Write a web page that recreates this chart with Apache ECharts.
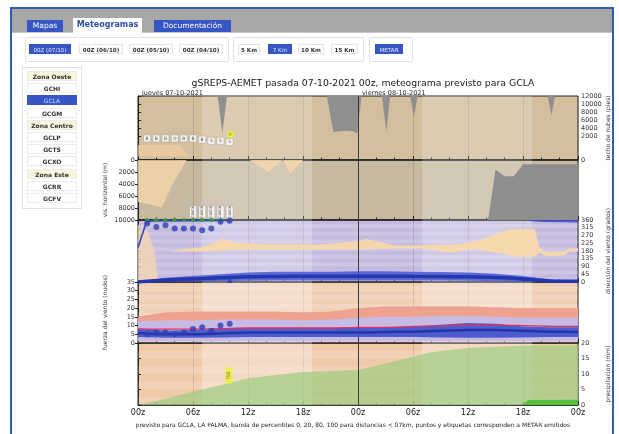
<!DOCTYPE html>
<html>
<head>
<meta charset="utf-8">
<script src="https://cdn.jsdelivr.net/npm/echarts@6/dist/echarts.min.js"></script>
<style>
  html, body { margin: 0; padding: 0; }
  body { width: 619px; height: 434px; overflow: hidden; background: #fff; position: relative;
         font-family: 'DejaVu Sans', 'Liberation Sans', sans-serif; }
  #chart { position: absolute; left: 0; top: 0; width: 619px; height: 434px; }
  .ui { position: absolute; z-index: 5; box-sizing: border-box; }
  .frame-h { left: 10px; top: 7px; width: 604px; height: 2px; background: #2f5fae; }
  .frame-l { left: 10px; top: 7px; width: 2px; height: 427px; background: #2f5fae; }
  .frame-r { left: 612px; top: 7px; width: 2px; height: 427px; background: #2f5fae; }
  .tabbar { left: 12px; top: 9px; width: 600px; height: 24px; background: #a7a7a7; border-bottom: 1px solid #c8c8c8; }
  .tab { height: 12px; line-height: 12px; font-size: 7.5px; text-align: center; color: #fff; background: #3556c4; }
  .tab.on { background: #fff; color: #2b4ea6; font-weight: bold; height: 15px; line-height: 14px; font-size: 8px; }
  .grp { border: 1px solid #e2e2e2; border-radius: 2px; }
  .btn { height: 10px; line-height: 10px; font-size: 5.6px; text-align: center; color: #333;
         border: 1px solid #e4e4e4; background: #fff; font-weight: bold; }
  .btn.on { background: #3556c4; color: #dfe6ff; border-color: #3556c4; font-weight: normal; }
  .side { left: 22px; top: 67px; width: 60px; height: 142px; border: 1px solid #e2e2e2; }
  .row { left: 27px; width: 50px; height: 10px; line-height: 10px; font-size: 6px; text-align: center;
         font-weight: bold; color: #333; border: 1px solid #ececec; background: #fff; }
  .row.zone { background: #f6f6dc; }
  .row.on { background: #3556c4; color: #cdd8ff; border-color: #3556c4; font-weight: normal; }
</style>
</head>
<body>
<div id="chart"></div>

<div class="ui frame-h"></div>
<div class="ui frame-l"></div>
<div class="ui frame-r"></div>
<div class="ui tabbar"></div>
<div class="ui tab" style="left:27px;top:20px;width:36px;">Mapas</div>
<div class="ui tab on" style="left:73px;top:18px;width:69px;">Meteogramas</div>
<div class="ui tab" style="left:154px;top:20px;width:77px;">Documentación</div>

<div class="ui grp" style="left:25px;top:37px;width:204px;height:25px;"></div>
<div class="ui btn on" style="left:29px;top:44px;width:42px;">00Z (07/10)</div>
<div class="ui btn" style="left:79px;top:44px;width:44px;">00Z (06/10)</div>
<div class="ui btn" style="left:129px;top:44px;width:44px;">00Z (05/10)</div>
<div class="ui btn" style="left:179px;top:44px;width:44px;">00Z (04/10)</div>
<div class="ui grp" style="left:233px;top:37px;width:131px;height:25px;"></div>
<div class="ui btn" style="left:238px;top:44px;width:22px;">5 Km</div>
<div class="ui btn on" style="left:268px;top:44px;width:24px;">7 Km</div>
<div class="ui btn" style="left:298px;top:44px;width:26px;">10 Km</div>
<div class="ui btn" style="left:331px;top:44px;width:27px;">15 Km</div>
<div class="ui grp" style="left:369px;top:37px;width:44px;height:25px;"></div>
<div class="ui btn on" style="left:375px;top:44px;width:28px;">METAR</div>

<div class="ui side"></div>
<div id="sidebar"></div>

<script>
// ---------------- station list ----------------
const sideRows = [
  ['Zona Oeste', 'zone'], ['GCHI', ''], ['GCLA', 'on'], ['GCGM', ''],
  ['Zona Centro', 'zone'], ['GCLP', ''], ['GCTS', ''], ['GCXO', ''],
  ['Zona Este', 'zone'], ['GCRR', ''], ['GCFV', '']
];
(function () {
  const box = document.getElementById('sidebar');
  sideRows.forEach((r, i) => {
    const d = document.createElement('div');
    d.className = 'ui row ' + r[1];
    d.style.top = (71 + i * 12.2) + 'px';
    d.textContent = r[0];
    box.appendChild(d);
  });
})();

// ---------------- time axis (hours from 07-10-2021 00z) ----------------
const xTickLabels = ['00z', '06z', '12z', '18z', '00z', '06z', '12z', '18z', '00z'];
const dayBands = [[7, 19], [31, 43]];

// ---------------- cloud ceiling (ft) ----------------
const ceilTickLabels = [0, 2000, 4000, 6000, 8000, 10000, 12000];
const ceilHours = [0, 8.7, 9.2, 9.7, 20.6, 21.3, 22.5, 23.5, 23.9, 24.4, 26.6, 27.1, 27.5, 29.7, 30.1, 30.5, 44.7, 45.1, 45.5, 48];
const ceilGrey  = [12000, 12000, 2700, 12000, 12000, 3000, 3300, 3200, 2600, 12000, 12000, 3000, 12000, 12000, 6600, 12000, 12000, 7200, 12000, 12000];
const ceilBandHours = [0, 4.5, 5.6];
const ceilBandLow   = [300, 300, 300];
const ceilBandHigh  = [1250, 1250, 300];
const metarCloudHours = [1, 2, 3, 4, 5, 6, 7, 8, 9, 10];
const metarCloudFt    = [1800, 1800, 1800, 1800, 1800, 1800, 1700, 1600, 1600, 1500];
const metarCloudCode  = ['B', 'B', 'B', 'O', 'B', 'B', 'B', 'S', 'S', 'S'];

// ---------------- visibility (m) ----------------
const visHours   = [0, 1.5, 2.6, 3.8, 5.3];
const visFan     = [7000, 7500, 7900, 4000, 0];
const visDayHours = [12.2, 14.2, 15.8, 16.6, 18.0];
const visDayBand  = [0, 2000, 0, 2300, 0];
const visGreyHours = [0, 38.2, 39.0, 40.0, 41.0, 42.0, 48];
const visGrey      = [10000, 10000, 1600, 2700, 2700, 700, 700];
const metarVisHours = [1, 2, 3, 4, 5, 6, 7, 8, 9, 10];
const metarVis      = [9999, 9999, 9999, 9999, 9999, 9999, 9999, 9999, 9999, 9999];
const metarVisTagHours = [6, 7, 8, 9, 10];

// ---------------- wind direction (deg) ----------------
const dirFanHours = [0, 1, 1.8, 2.2];
const dirFan      = [330, 300, 180, 0];
const dirBandHours = [3.8, 5, 6.8, 8.6, 9.3, 10, 11, 14, 20, 24, 25, 26, 28, 31, 34, 35, 36, 37, 40.2, 41, 43.3, 43.8, 44.5, 46.5, 47, 48];
const dirBandLow   = [177, 177, 177, 183, 185, 186, 189, 189, 189, 189, 189, 192, 195, 195, 171, 177, 189, 189, 160, 148, 148, 170, 153, 153, 177, 177];
const dirBandHigh  = [180, 190, 201, 230, 254, 235, 230, 218, 218, 236, 250, 236, 212, 212, 218, 218, 230, 240, 300, 307, 307, 200, 177, 177, 195, 195];
const dirHours   = [0, 3, 6, 9, 12, 15, 18, 21, 24, 27, 30, 33, 36, 39, 42, 45, 48];
const dirLow     = [0, 2, 3, 5, 7, 8, 8, 8, 8, 8, 8, 8, 7, 5, 2, 0, 0];
const dirHigh    = [0, 25, 35, 45, 55, 60, 60, 60, 62, 62, 60, 58, 55, 48, 35, 15, 10];
const dirMedian  = [0, 12, 18, 24, 30, 32, 33, 33, 34, 34, 33, 32, 30, 26, 18, 6, 4];
const dirTopHours = [42.5, 44, 48];
const dirTopLow   = [355, 348, 345];
const dirLineHours = [0, 0.9, 1.5, 10.2];
const dirLine      = [200, 345, 355, 357];
const metarDirHours = [1, 2, 3, 4, 5, 6, 7, 8, 9, 10];
const metarDir      = [340, 320, 330, 310, 310, 310, 300, 310, 350, 355];

// ---------------- wind speed (kt) ----------------
const spdHours = [0, 3, 6, 9, 12, 15, 18, 21, 24, 27, 30, 33, 36, 39, 42, 45, 48];
const spdOuterLow = [1, 1, 1, 1, 1, 1, 1, 1, 1, 1, 1, 1, 1, 1, 1, 1, 1];
const gustLow  = [12.5, 13, 13, 13.5, 13.5, 13.5, 13, 13.5, 14.5, 15, 15, 15.5, 15.5, 15, 14.5, 14.5, 14.5];
const gustHigh = [15, 17.5, 18, 18, 18, 18, 17.5, 18, 20, 21, 21, 21, 21, 20.5, 20, 20, 20];
const spdLow   = [3.5, 3, 3, 3.2, 3.4, 3.4, 3.4, 3.4, 3.4, 3.4, 3.4, 3.2, 3, 3, 3.2, 3.4, 3.4];
const spdHigh  = [8.5, 7, 7.5, 8, 8.6, 8.6, 8.6, 8.6, 9, 9, 9.5, 10.5, 11.5, 11, 9.5, 9, 9];
const spdRef   = [8, 8, 8, 8.2, 8.6, 8.6, 8.6, 8.6, 9, 9, 9.5, 9.8, 10.3, 10.3, 10, 9.6, 9.5];
const spdMed   = [5.7, 5, 5, 5.5, 6, 6, 6, 6, 6, 6.3, 6.5, 7, 7.5, 7.5, 7, 6.5, 6.3];
const metarSpdHours = [1, 2, 3, 4, 5, 6, 7, 8, 9, 10];
const metarSpd      = [5, 6, 6, 5, 6, 8, 9, 7, 10, 11];

// ---------------- accumulated precipitation (mm) ----------------
const pcpHours = [0, 2.4, 6.8, 12.2, 17.7, 24, 28.6, 31.9, 36.2, 42, 48];
const pcpHigh  = [0, 1.6, 4.8, 8.7, 10.6, 11.3, 14.5, 17, 18.5, 19.1, 19.3];
const pcpMedHours = [0, 41.8, 42.6, 48];
const pcpMed      = [0, 0, 1.6, 1.7];

// ---------------- helpers ----------------
const ceilT   = v => (v <= 2000 ? v * 3 : v + 4000);
const ceilInv = t => (t <= 6000 ? t / 3 : t - 4000);
const pairs = (xs, ys, f) => xs.map((x, i) => [x, f ? f(ys[i]) : ys[i]]);
const FONT = 'DejaVu Sans';

const gridBg  = ['#d3bf9e', '#c6b9a1', '#c5bbdf', '#f0cfb3', '#f0c9a9'];
const dayTint = [0.2, 0.22, 0.22, 0.3, 0.3];
const gridTop = [96, 160, 220, 282, 343];
const gridH   = [64, 60, 62, 61, 62];

// filled band between two curves, drawn as one polygon in axis coordinates
function band(idx, xs, lo, hi, color, z, f) {
  const tf = f || (v => v);
  return {
    type: 'custom', xAxisIndex: idx, yAxisIndex: idx, z: z, silent: true,
    data: xs.map((x, i) => [x, tf(lo[i]), tf(hi[i])]),
    encode: { x: 0, y: [1, 2] },
    renderItem: (params, api) => {
      if (params.dataIndex !== 0) return null;
      const upper = xs.map((x, i) => api.coord([x, tf(hi[i])]));
      const lower = xs.map((x, i) => api.coord([x, tf(lo[i])])).reverse();
      const cs = params.coordSys;
      return {
        type: 'group',
        clipPath: { type: 'rect', shape: { x: cs.x, y: cs.y, width: cs.width, height: cs.height } },
        children: [{ type: 'polygon', shape: { points: upper.concat(lower) }, style: { fill: color } }]
      };
    }
  };
}

function areaLine(idx, xs, ys, origin, color, z, f) {
  return { type: 'line', xAxisIndex: idx, yAxisIndex: idx, data: pairs(xs, ys, f), symbol: 'none',
           lineStyle: { width: 0 }, areaStyle: { origin: origin, color: color, opacity: 1 }, silent: true, z: z };
}

function notes(idx, list, z) {
  return { type: 'scatter', xAxisIndex: idx, yAxisIndex: idx, symbol: 'rect', symbolSize: 1, z: z || 20,
           itemStyle: { opacity: 0 }, silent: true,
           data: list.map(n => ({ value: [n.x, n.y], label: Object.assign({
             show: true, formatter: n.text, position: 'right', distance: 0, fontFamily: FONT, fontSize: 5.5, color: '#222'
           }, n.style || {}) })) };
}

// daylight shading, faint horizontal stripes and the midnight line
function backdrop(idx, stripeStep, stripeMax) {
  const stripes = [];
  if (stripeStep) {
    for (let v = 0; v < stripeMax; v += 2 * stripeStep) stripes.push([{ yAxis: v }, { yAxis: Math.min(v + stripeStep, stripeMax) }]);
  }
  return [
    { type: 'line', xAxisIndex: idx, yAxisIndex: idx, data: [], z: 1, silent: true,
      markArea: { silent: true, itemStyle: { color: 'rgba(255,255,255,' + dayTint[idx] + ')' },
                  data: dayBands.map(b => [{ xAxis: b[0] }, { xAxis: b[1] }]) } },
    { type: 'line', xAxisIndex: idx, yAxisIndex: idx, data: [], z: 1, silent: true,
      markArea: { silent: true, itemStyle: { color: 'rgba(255,255,255,0.16)' }, data: stripes } },
    { type: 'line', xAxisIndex: idx, yAxisIndex: idx, data: [], z: 15, silent: true,
      markLine: { silent: true, symbol: 'none', label: { show: false },
                  lineStyle: { color: '#3a3a3a', width: 1, type: 'solid' }, data: [{ xAxis: 24 }] } }
  ];
}

const redBox = { borderColor: '#e0302c', borderWidth: 1, borderRadius: 1, padding: [1, 3, 0, 3], backgroundColor: 'rgba(255,255,255,0.15)' };
const orangeTxt = { color: '#e07a1c' };

const series = [];
// panel 0: cloud ceiling
series.push(...backdrop(0));
series.push(band(0, ceilBandHours, ceilBandLow, ceilBandHigh, 'rgba(240,205,160,0.7)', 3, ceilT));
series.push(areaLine(0, ceilHours, ceilGrey, 'end', '#8f8f8f', 4, ceilT));
series.push({ type: 'scatter', xAxisIndex: 0, yAxisIndex: 0, z: 10, silent: true, symbol: 'rect', symbolSize: [7, 7],
  itemStyle: { color: '#fff', borderColor: '#9a9a9a', borderWidth: 0.5 },
  data: metarCloudHours.map((h, i) => ({ value: [h, ceilT(metarCloudFt[i])],
    label: { show: true, position: 'inside', formatter: metarCloudCode[i], fontSize: 4.5, color: '#223', fontFamily: FONT } })) });
series.push({ type: 'scatter', xAxisIndex: 0, yAxisIndex: 0, z: 11, silent: true, symbol: 'rect', symbolSize: [6, 7],
  itemStyle: { color: '#f1f02a' },
  data: [{ value: [10.1, ceilT(2400)], label: { show: true, position: 'inside', formatter: 'F', fontSize: 4.5, color: '#333', fontFamily: FONT } }] });
series.push(notes(0, [
  { x: 0.3, y: ceilT(10300), text: 'min 0.9', style: redBox },
  { x: 24.8, y: ceilT(10300), text: 'min 0.9', style: redBox }
]));

// panel 1: visibility
series.push(...backdrop(1));
series.push(areaLine(1, visHours, visFan, 'start', 'rgba(245,214,170,0.8)', 3));
series.push(areaLine(1, visDayHours, visDayBand, 'start', 'rgba(245,214,170,0.85)', 3));
series.push(areaLine(1, visGreyHours, visGrey, 'end', '#8e8e8e', 4));
series.push({ type: 'line', xAxisIndex: 1, yAxisIndex: 1, z: 9, silent: true, data: pairs(metarVisHours, metarVis),
  symbol: 'circle', symbolSize: 4, itemStyle: { color: '#3a9a3a' }, lineStyle: { color: '#3a9a3a', width: 1.2, type: [3, 2] } });
series.push({ type: 'scatter', xAxisIndex: 1, yAxisIndex: 1, z: 10, silent: true, symbol: 'rect', symbolSize: [7, 12],
  itemStyle: { color: '#fff', borderColor: '#9a9a9a', borderWidth: 0.5 },
  data: metarVisTagHours.map(h => ({ value: [h, 8650],
    label: { show: true, position: 'inside', formatter: 'CAVOK', rotate: 90, fontSize: 3.6, color: '#223', fontFamily: FONT } })) });
series.push(notes(1, [
  { x: 0.7, y: 8700, text: 'min 0 m', style: redBox },
  { x: 25.0, y: 8800, text: 'min 90 m', style: redBox }
]));

// panel 2: wind direction
series.push(...backdrop(2, 22.5, 360));
series.push(areaLine(2, dirFanHours, dirFan, 'start', 'rgba(244,214,178,0.8)', 3));
series.push(band(2, dirBandHours, dirBandLow, dirBandHigh, 'rgba(248,216,170,0.95)', 4));
series.push(band(2, dirHours, dirLow, dirHigh, 'rgba(62,82,206,0.8)', 5));
series.push(areaLine(2, dirTopHours, dirTopLow, 'end', 'rgba(60,80,205,0.85)', 5));
series.push({ type: 'line', xAxisIndex: 2, yAxisIndex: 2, z: 6, silent: true, data: pairs(dirHours, dirMedian),
  symbol: 'none', smooth: 0.3, lineStyle: { color: '#2436b0', width: 3.5 } });
series.push({ type: 'line', xAxisIndex: 2, yAxisIndex: 2, z: 7, silent: true, data: pairs(dirLineHours, dirLine),
  symbol: 'none', lineStyle: { color: '#3346c4', width: 1.6 } });
series.push({ type: 'scatter', xAxisIndex: 2, yAxisIndex: 2, z: 9, silent: true, symbolSize: 6,
  itemStyle: { color: '#2f40b6' }, data: pairs(metarDirHours, metarDir) });
series.push({ type: 'scatter', xAxisIndex: 2, yAxisIndex: 2, z: 9, silent: true, symbol: 'triangle', symbolSize: 6,
  itemStyle: { color: '#2f40b6' }, data: [[10, 12]] });

// panel 3: wind speed
series.push(...backdrop(3, 2.5, 35));
series.push(band(3, spdHours, spdOuterLow, gustHigh, 'rgba(196,184,230,0.95)', 3));
series.push(band(3, spdHours, gustLow, gustHigh, 'rgba(243,160,132,0.9)', 4));
series.push(band(3, spdHours, spdLow, spdHigh, 'rgba(62,80,202,0.88)', 5));
series.push({ type: 'line', xAxisIndex: 3, yAxisIndex: 3, z: 6, silent: true, data: pairs(spdHours, spdMed),
  symbol: 'none', smooth: 0.3, lineStyle: { color: '#2436a8', width: 2.5 } });
series.push({ type: 'line', xAxisIndex: 3, yAxisIndex: 3, z: 7, silent: true, data: pairs(spdHours, spdRef),
  symbol: 'none', smooth: 0.3, lineStyle: { color: '#e3315c', width: 1.3 } });
series.push({ type: 'scatter', xAxisIndex: 3, yAxisIndex: 3, z: 9, silent: true, symbolSize: 6,
  itemStyle: { color: '#2f40b6' }, data: pairs(metarSpdHours, metarSpd) });
series.push(notes(3, [
  { x: 0.9, y: 29.5, text: '28kt', style: orangeTxt },
  { x: 45.6, y: 29.5, text: '28kt', style: orangeTxt },
  { x: 35.8, y: 24, text: 'G-max 23kt' }
]));

// panel 4: precipitation
series.push(...backdrop(4, 2.5, 20));
series.push(areaLine(4, pcpHours, pcpHigh, 'start', 'rgba(160,205,130,0.72)', 3));
series.push(areaLine(4, pcpMedHours, pcpMed, 'start', '#55c03c', 4));
series.push({ type: 'scatter', xAxisIndex: 4, yAxisIndex: 4, z: 10, silent: true, symbol: 'rect', symbolSize: [7, 16],
  itemStyle: { color: '#eef02a' },
  data: [{ value: [9.9, 9.5], label: { show: true, position: 'inside', formatter: 'TSS', rotate: 90, fontSize: 4.5, color: '#333', fontFamily: FONT } }] });
series.push(notes(4, [
  { x: 1.0, y: 17.4, text: 'max 0.8 mm/h' },
  { x: 1.0, y: 15.2, text: '17 mm', style: orangeTxt },
  { x: 25.0, y: 17.2, text: 'max 1.1 mm/h' },
  { x: 43.6, y: 14.5, text: '24 mm', style: orangeTxt }
]));

const axisTxt = { fontFamily: FONT, fontSize: 6.5, color: '#333' };
function yAxisBase(idx, pos, name, gap) {
  return {
    gridIndex: idx, type: 'value', position: pos, name: name, nameLocation: 'middle', nameRotate: 90, nameGap: gap,
    nameMoveOverlap: false,
    nameTextStyle: Object.assign({}, axisTxt, { fontSize: 6 }),
    axisLine: { show: true, lineStyle: { color: '#222', width: 1 } },
    axisTick: { show: true, inside: false, length: 3, lineStyle: { color: '#222' } },
    axisLabel: Object.assign({ margin: 3, formatter: v => String(v) }, axisTxt),
    splitLine: { show: false }
  };
}

const option = {
  animation: false,
  backgroundColor: 'transparent',
  textStyle: { fontFamily: FONT },
  title: [
    { text: 'gSREPS-AEMET pasada 07-10-2021 00z, meteograma previsto para GCLA', left: 358, top: 74, textAlign: 'center',
      textStyle: { fontFamily: FONT, fontSize: 9.3, fontWeight: 'normal', color: '#1a1a1a' } },
    { text: 'jueves 07-10-2021', left: 137, top: 85, textStyle: { fontFamily: FONT, fontSize: 6.5, fontWeight: 'normal', color: '#222' } },
    { text: 'viernes 08-10-2021', left: 357, top: 85, textStyle: { fontFamily: FONT, fontSize: 6.5, fontWeight: 'normal', color: '#222' } },
    { text: 'previsto para GCLA, LA PALMA, banda de percentiles 0, 20, 80, 100 para distancias < 07km, puntos y etiquetas corresponden a METAR emitidos',
      left: 348, top: 417, textAlign: 'center', textStyle: { fontFamily: FONT, fontSize: 6, fontWeight: 'normal', color: '#222' } }
  ],
  grid: gridTop.map((t, i) => ({ left: 138, top: t, width: 440, height: gridH[i], show: true,
    backgroundColor: gridBg[i], borderColor: '#222', borderWidth: 1 })),
  xAxis: [0, 1, 2, 3, 4].map(i => ({
    gridIndex: i, type: 'value', min: 0, max: 48, interval: 6,
    axisLine: { show: true, onZero: false, lineStyle: { color: '#222', width: 1.5 } },
    axisTick: { show: true, inside: true, length: 4, lineStyle: { color: '#222' } },
    minorTick: { show: true, splitNumber: 3, length: 2.5, lineStyle: { color: '#222' } },
    axisLabel: { show: i === 4, formatter: v => xTickLabels[Math.round(v / 6)], fontFamily: FONT, fontSize: 8, color: '#222', margin: 4 },
    splitLine: { show: true, lineStyle: { color: 'rgba(70,50,30,0.16)', width: 1 } }
  })),
  yAxis: [
    Object.assign(yAxisBase(0, 'right', 'techo de nubes (pies)', 27), {
      min: 0, max: ceilT(12000),
      axisLabel: Object.assign({ margin: 3, customValues: ceilTickLabels.map(ceilT), formatter: v => String(Math.round(ceilInv(v))) }, axisTxt),
      axisTick: { show: true, length: 3, customValues: ceilTickLabels.map(ceilT), lineStyle: { color: '#222' } }
    }),
    Object.assign(yAxisBase(1, 'left', 'vis. horizontal (m)', 30), { min: 0, max: 10000, interval: 2000, inverse: true }),
    Object.assign(yAxisBase(2, 'right', 'dirección del viento (grados)', 27), { min: 0, max: 360, interval: 45 }),
    Object.assign(yAxisBase(3, 'left', 'fuerza del viento (nudos)', 30), { min: 0, max: 35, interval: 5 }),
    Object.assign(yAxisBase(4, 'right', 'precipitación (mm)', 27), { min: 0, max: 20, interval: 5 })
  ],
  series: series
};

const chart = echarts.init(document.getElementById('chart'), null, { renderer: 'canvas' });
chart.setOption(option);
</script>
</body>
</html>
